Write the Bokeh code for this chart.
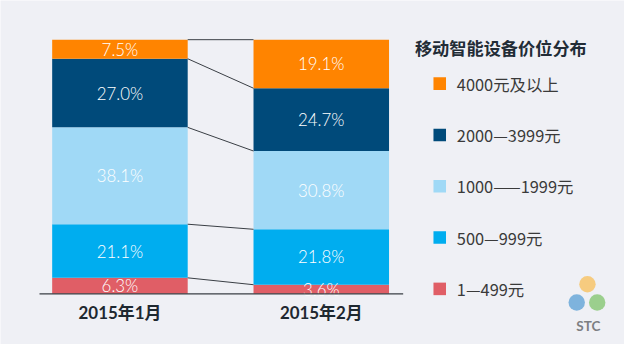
from bokeh.plotting import figure
from bokeh.models import ColumnDataSource, Range1d
from bokeh.core.properties import value
from bokeh.embed import file_html
from bokeh.resources import INLINE
import numpy as np

# ---- data ----
months = ["2015年1月", "2015年2月"]
price_bands = ["1—499元", "500—999元", "1000——1999元", "2000—3999元", "4000元及以上"]
jan_share = [6.3, 21.1, 38.1, 27.0, 7.5]
feb_share = [3.6, 21.8, 30.8, 24.7, 19.1]
band_colors = ["#E05E66", "#00ADEF", "#A0D9F6", "#004A7A", "#FF8400"]
chart_title = "移动智能设备价位分布"
logo_text = "STC"

BG = "#EFF0F5"
W, H = 624, 344
S = 0.965  # font scale (figure is slightly smaller than the 640x360 reference)

# mapping from reference-picture pixels to data units
X0_PX, DX_PX = 122.5, 206.5
Y0_PX, DY_PX = 307.0, 2.66


def dx(rx):
    return (rx - X0_PX) / DX_PX


def dy(ry):
    return (Y0_PX - ry) / DY_PX


def fs(px):
    return f"{px * S:.1f}px"


LIGHT = "'Lato Light', 'Roboto Light', 'Noto Sans CJK SC Light', Lato"

p = figure(width=W, height=H, output_backend="svg", toolbar_location=None,
           x_range=Range1d(dx(0), dx(640)), y_range=Range1d(dy(360), dy(0)),
           x_axis_type=None, y_axis_type=None, min_border=0,
           background_fill_color=BG, border_fill_color=BG, outline_line_color=None)
p.grid.visible = False

bar_w = 139 / DX_PX
series = [jan_share, feb_share]

xs, bottoms, tops, cols, labels, label_y = [], [], [], [], [], []
for i, vals in enumerate(series):
    cum = np.concatenate([[0], np.cumsum(vals)])
    for j, v in enumerate(vals):
        xs.append(i)
        bottoms.append(cum[j])
        tops.append(cum[j + 1])
        cols.append(band_colors[j])
        labels.append(f"{v:.1f}%")
        label_y.append((cum[j] + cum[j + 1]) / 2)

src = ColumnDataSource(dict(x=xs, bottom=bottoms, top=tops, color=cols,
                            label=labels, ly=label_y))
p.vbar(x="x", width=bar_w, bottom="bottom", top="top", fill_color="color",
       line_color=None, source=src)

# percentage labels
p.text(x="x", y="ly", text="label", source=src, text_color="white",
       text_font=value(LIGHT), text_font_size=fs(17.5),
       text_align="center", text_baseline="middle")

# connectors between bars
cum_jan = np.cumsum(jan_share)
cum_feb = np.cumsum(feb_share)
p.segment(x0=[0 + bar_w / 2] * len(cum_jan), y0=list(cum_jan),
          x1=[1 - bar_w / 2] * len(cum_feb), y1=list(cum_feb),
          line_color="#3A3F45", line_width=1)

# baseline
p.segment(x0=[dx(40)], y0=[0], x1=[dx(413)], y1=[0], line_color="#3A3F45", line_width=1.2)

# month labels
p.text(x=list(range(len(months))), y=[dy(326)] * len(months), text=months,
       text_color="#1E2830", text_font=value("Lato, 'Noto Sans CJK SC'"),
       text_font_style="bold", text_font_size=fs(17.5),
       text_align="center", text_baseline="middle")

# legend title
p.text(x=[dx(425)], y=[dy(49)], text=[chart_title], text_color="#222C36",
       text_font=value("Noto Sans CJK SC"), text_font_style="bold",
       text_font_size=fs(17.8), text_align="left", text_baseline="middle")

# legend entries (top = highest band)
order = list(range(len(price_bands)))[::-1]
leg_y = [dy(87 + k * 53.7) for k in range(len(order))]
p.scatter(x=[dx(450.5)] * len(order), y=leg_y, marker="square", size=13 * S,
          fill_color=[band_colors[j] for j in order], line_color=None)
p.text(x=[dx(468)] * len(order), y=leg_y, text=[price_bands[j] for j in order],
       text_color="#3A3A3A", text_font=value("'Noto Sans CJK SC'"),
       text_font_size=fs(17), text_align="left", text_baseline="middle")

# logo
p.scatter(x=[dx(602), dx(591), dx(612)], y=[dy(297), dy(316), dy(316)], marker="circle",
          size=[17 * S, 17 * S, 17 * S], fill_color=["#F7C46A", "#6AA8D8", "#8CC97A"],
          fill_alpha=0.85, line_color=None)
p.text(x=[dx(603)], y=[dy(341)], text=[logo_text], text_color="#7D7F82",
       text_font=value("Lato"), text_font_style="bold", text_font_size=fs(14),
       text_align="center", text_baseline="middle")

open("out.html", "w").write(file_html(p, INLINE))
